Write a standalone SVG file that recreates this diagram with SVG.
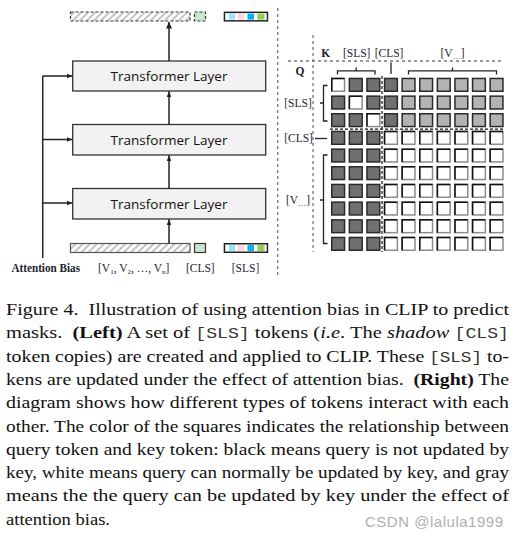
<svg xmlns="http://www.w3.org/2000/svg" width="518" height="537" viewBox="0 0 518 537">
<style>
.box{fill:#f2f2f2;stroke:#333;stroke-width:1.3}
.tl{font-family:"Open Sans","Noto Sans","Liberation Sans",sans-serif;font-size:13.5px;fill:#111;text-anchor:middle}
.lb{font-family:"Liberation Serif","DejaVu Serif",serif;font-size:11.5px;fill:#1d1d33}
.mid{text-anchor:middle}
.conn{fill:none;stroke:#222;stroke-width:1.5}
.br{fill:none;stroke:#222;stroke-width:1.3}
.sep{fill:none;stroke:#777;stroke-width:1.3;stroke-dasharray:3 3}
.dm{fill:none;stroke:#111;stroke-width:1.2;stroke-dasharray:3 2}
.cap{font-family:"Liberation Serif","Times New Roman",serif;font-size:17.5px;fill:#111}
.mono{font-family:"Liberation Mono",monospace;font-size:15.5px;fill:#333}
.wm{font-family:"Liberation Sans",Arial,sans-serif;font-size:15px;fill:#b0b0b0}
</style>
<defs>
<marker id="ah" viewBox="0 0 10 10" refX="10" refY="5" markerWidth="6" markerHeight="6" markerUnits="userSpaceOnUse" orient="auto"><path d="M0,1 L10,5 L0,9 z" fill="#222"/></marker>
<pattern id="hatch" width="5" height="5" patternUnits="userSpaceOnUse" patternTransform="rotate(45)"><rect width="5" height="5" fill="#fff"/><line x1="1" y1="0" x2="1" y2="5" stroke="#c4c4c4" stroke-width="2"/></pattern>
<g id="cd"><rect x="0.75" y="0.75" width="12.8" height="12.8" fill="#707070" stroke="#2a2a2a" stroke-width="1.5"/></g>
<g id="cg"><rect x="0.75" y="0.75" width="12.8" height="12.8" fill="#b3b3b3" stroke="#2a2a2a" stroke-width="1.5"/></g>
<g id="cw"><rect x="0.75" y="0.75" width="12.8" height="12.8" fill="#fff" stroke="#8c8c8c" stroke-width="1.5"/><path d="M0.75,13.55 V0.75 H13.55" fill="none" stroke="#111" stroke-width="1.5"/></g>
<g id="rowV"><use href="#cd" x="0"/><use href="#cd" x="17.6"/><use href="#cd" x="35.2"/><use href="#cw" x="52.8"/><use href="#cw" x="70.4"/><use href="#cw" x="88"/><use href="#cw" x="105.6"/><use href="#cw" x="123.2"/><use href="#cw" x="140.8"/><use href="#cw" x="158.4"/></g>
<g id="grayTail"><use href="#cd" x="52.8"/><use href="#cg" x="70.4"/><use href="#cg" x="88"/><use href="#cg" x="105.6"/><use href="#cg" x="123.2"/><use href="#cg" x="140.8"/><use href="#cg" x="158.4"/></g>
<g id="sls"><rect x="0.75" y="0.75" width="43" height="8.5" fill="#fff" stroke="#222" stroke-width="1.5"/><rect x="5" y="2" width="6.5" height="6" fill="#99e4fb"/><rect x="14" y="2" width="6.5" height="6" fill="#ffd3dc"/><rect x="23.8" y="2" width="6.5" height="6" fill="#00b0f0"/><rect x="33.8" y="2" width="7" height="6" fill="#92d050"/></g>
</defs>
<rect width="518" height="537" fill="#fff"/>

<!-- Left diagram -->
<g id="out-tokens">
<rect x="70.5" y="12" width="119.5" height="9" fill="url(#hatch)" stroke="#333" stroke-width="1.2" stroke-dasharray="3 2"/>
<rect x="194.5" y="12" width="11" height="9" fill="#c9e6d3" stroke="#333" stroke-width="1.2" stroke-dasharray="3 2"/>
<use href="#sls" x="223.7" y="11.6"/>
</g>
<g id="layer1"><rect class="box" x="72.7" y="61" width="193" height="30"/><text class="tl" x="169" y="81">Transformer Layer</text></g>
<g id="layer2"><rect class="box" x="72.7" y="124.5" width="193" height="30.5"/><text class="tl" x="169" y="144.5">Transformer Layer</text></g>
<g id="layer3"><rect class="box" x="72.7" y="188.5" width="193" height="30.5"/><text class="tl" x="169" y="208.5">Transformer Layer</text></g>
<g id="in-tokens">
<rect x="70.5" y="243.5" width="119.5" height="9" fill="url(#hatch)" stroke="#555" stroke-width="1.2"/>
<rect x="194.5" y="243.5" width="11" height="9" fill="#c9e6d3" stroke="#333" stroke-width="1.2"/>
<use href="#sls" x="223.7" y="243"/>
</g>
<g id="left-labels">
<text class="lb" x="11.5" y="272" font-weight="bold" fill="#1d1d33" textLength="68.5" lengthAdjust="spacingAndGlyphs">Attention Bias</text>
<text class="lb" x="98" y="272" font-size="10.8">[V<tspan font-size="7" dy="2">1</tspan><tspan dy="-2">, V</tspan><tspan font-size="7" dy="2">2</tspan><tspan dy="-2">, …, V</tspan><tspan font-size="7" dy="2">n</tspan><tspan dy="-2">]</tspan></text>
<text class="lb mid" x="200.3" y="272">[CLS]</text>
<text class="lb mid" x="245.5" y="272">[SLS]</text>
</g>

<g id="connectors">
<path class="conn" d="M42.7,258 V76"/>
<path class="conn" d="M42.7,76 H72.5" marker-end="url(#ah)"/>
<path class="conn" d="M42.7,139.5 H72.5" marker-end="url(#ah)"/>
<path class="conn" d="M42.7,203 H72.5" marker-end="url(#ah)"/>
<path class="conn" d="M169,243 V219.3" marker-end="url(#ah)"/>
<path class="conn" d="M169,188.5 V155.3" marker-end="url(#ah)"/>
<path class="conn" d="M169,124.5 V91.3" marker-end="url(#ah)"/>
<path class="conn" d="M169,61 V22"/>
<path d="M169,22 l-3,6.5 h6 z" fill="#222"/>
</g>

<!-- Separator -->
<line class="sep" x1="277.7" y1="8" x2="277.7" y2="278"/>

<!-- Right matrix -->
<g id="matrix">
<line class="sep" x1="288" y1="61" x2="504" y2="61" stroke="#666" stroke-dasharray="4 2.5"/>
<line class="sep" x1="313" y1="35" x2="313" y2="252" stroke="#666"/>
<text class="lb mid" x="325.7" y="57" font-weight="bold">K</text>
<text class="lb mid" x="356.7" y="57">[SLS]</text>
<text class="lb mid" x="389" y="57">[CLS]</text>
<text class="lb mid" x="452.5" y="57">[V<tspan font-size="8" dy="2">…</tspan><tspan dy="-2">]</tspan></text>
<text class="lb mid" x="300" y="75" font-weight="bold">Q</text>
<text class="lb mid" x="298" y="107">[SLS]</text>
<text class="lb mid" x="298.5" y="142">[CLS]</text>
<text class="lb mid" x="298" y="204">[V<tspan font-size="8" dy="2">…</tspan><tspan dy="-2">]</tspan></text>
<path class="br" d="M337.5,74.5 V70.8 H375 V74.5 M356.2,70.8 V67.5"/>
<path class="br" d="M391,62.5 V74"/>
<path class="br" d="M408.5,74.5 V70.8 H496.5 V74.5 M452.5,70.8 V67.5"/>
<path class="br" d="M327.5,85.5 H323.5 V121 H327.5 M323.5,103 H320"/>
<path class="br" d="M315,138.5 H327" stroke-width="1.5"/>
<path class="br" d="M327.5,155 H323.5 V243.5 H327.5 M323.5,200 H320"/>
<g transform="translate(331,77.7)"><use href="#cw" x="0"/><use href="#cd" x="17.6"/><use href="#cd" x="35.2"/><use href="#grayTail"/></g>
<g transform="translate(331,95.4)"><use href="#cd" x="0"/><use href="#cw" x="17.6"/><use href="#cd" x="35.2"/><use href="#grayTail"/></g>
<g transform="translate(331,113)"><use href="#cd" x="0"/><use href="#cd" x="17.6"/><use href="#cw" x="35.2"/><use href="#grayTail"/></g>
<use href="#rowV" x="331" y="130.7"/>
<use href="#rowV" x="331" y="148.4"/>
<use href="#rowV" x="331" y="166"/>
<use href="#rowV" x="331" y="183.7"/>
<use href="#rowV" x="331" y="201.4"/>
<use href="#rowV" x="331" y="219.1"/>
<use href="#rowV" x="331" y="236.7"/>
<line class="dm" x1="382" y1="76" x2="382" y2="252"/>
<line class="dm" x1="330" y1="129.2" x2="504" y2="129.2"/>
</g>

<!-- Caption -->
<g id="caption" class="cap">
<text x="6" y="315" textLength="503" lengthAdjust="spacingAndGlyphs">Figure 4.&#160; Illustration of using attention bias in CLIP to predict</text>
<text x="6" y="338.3" textLength="503" lengthAdjust="spacingAndGlyphs">masks.&#160; <tspan font-weight="bold">(Left)</tspan> A set of <tspan class="mono">[SLS]</tspan> tokens (<tspan font-style="italic">i.e</tspan>. The <tspan font-style="italic">shadow</tspan> <tspan class="mono">[CLS]</tspan></text>
<text x="6" y="361.6" textLength="503" lengthAdjust="spacingAndGlyphs">token copies) are created and applied to CLIP. These <tspan class="mono">[SLS]</tspan> to-</text>
<text x="6" y="384.9" textLength="503" lengthAdjust="spacingAndGlyphs">kens are updated under the effect of attention bias.&#160; <tspan font-weight="bold">(Right)</tspan> The</text>
<text x="6" y="408.2" textLength="503" lengthAdjust="spacingAndGlyphs">diagram shows how different types of tokens interact with each</text>
<text x="6" y="431.5" textLength="503" lengthAdjust="spacingAndGlyphs">other. The color of the squares indicates the relationship between</text>
<text x="6" y="454.8" textLength="503" lengthAdjust="spacingAndGlyphs">query token and key token: black means query is not updated by</text>
<text x="6" y="478.1" textLength="503" lengthAdjust="spacingAndGlyphs">key, white means query can normally be updated by key, and gray</text>
<text x="6" y="501.4" textLength="503" lengthAdjust="spacingAndGlyphs">means the the query can be updated by key under the effect of</text>
<text x="6" y="524.7" textLength="104" lengthAdjust="spacingAndGlyphs">attention bias.</text>
</g>
<text class="wm" x="365" y="527" textLength="138">CSDN @lalula1999</text>
</svg>
